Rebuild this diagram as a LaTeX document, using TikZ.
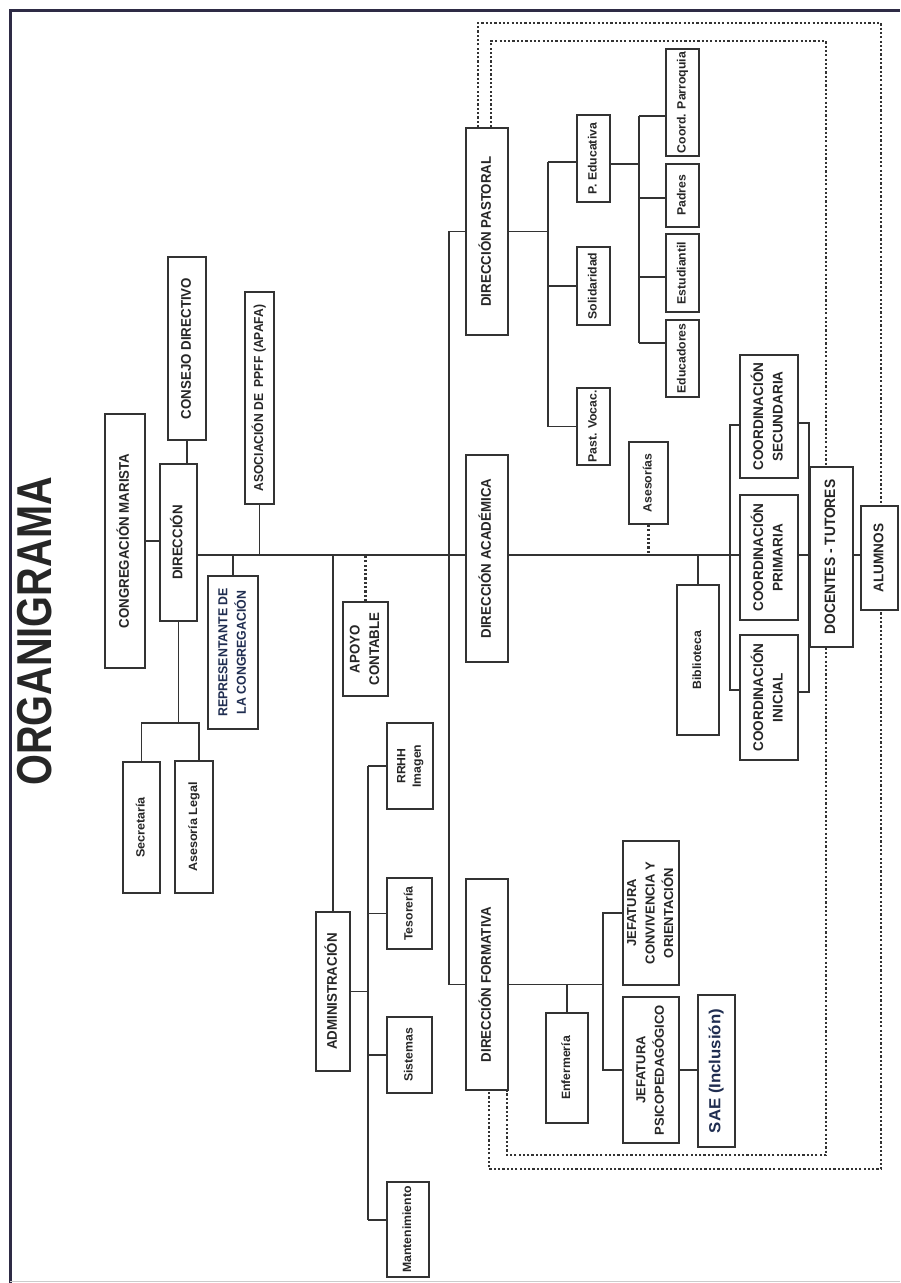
\documentclass[tikz,border=0pt]{standalone}
\usepackage{fontspec}
\setmainfont{Liberation Sans}
\usepackage{graphicx}
\pgfdeclarelayer{bg}
\pgfsetlayers{bg,main}
\definecolor{ln}{HTML}{333333}
\definecolor{navy}{HTML}{1F2D50}
\definecolor{frm}{HTML}{2E2B45}
\newcommand\rot[2]{\rotatebox{90}{\makebox[0pt]{\scalebox{#1}[1]{\begin{tabular}{@{}c@{}}#2\end{tabular}}}}}
\newcommand\bx[7][]{\node[box,#1,minimum width={(#5-#3)*1pt},minimum height={(#6-#4)*1pt}] (#2) at ({(#3+#5)/2},{(#4+#6)/2}) {#7};}
\tikzset{
  box/.style={draw=ln, line width=1.8pt, fill=white, inner sep=0pt, text=black!85},
  big/.style={font=\bfseries\fontsize{14}{19.5}\selectfont},
  med/.style={font=\bfseries\fontsize{13}{18.5}\selectfont},
  sml/.style={font=\bfseries\fontsize{12}{15.5}\selectfont},
  conn/.style={draw=ln, line width=1.6pt},
  dotl/.style={draw=black!80, line width=2.6pt, dash pattern=on 2.2pt off 2.1pt},
}
\begin{document}
\begin{tikzpicture}[x=1pt,y=-1pt]
\useasboundingbox (0,0) rectangle (900,1283);
\begin{pgfonlayer}{bg}
\fill[white] (0,0) rectangle (900,1283);
\end{pgfonlayer}
\draw[frm, line width=3pt] (10,1283) -- (10,10) -- (900,10);
\draw[black!20, line width=1pt] (10,1281.5) -- (900,1281.5);

\node[font=\bfseries\fontsize{49}{49}\selectfont, text=black!85, inner sep=0pt] (title) at (41.5,631.5) {\rot{0.81}{ORGANIGRAMA}};

% left part
\bx[big]{cong}{105}{414}{145}{668}{\rot{0.95}{CONGREGACIÓN MARISTA}}
\bx[big]{cons}{168}{257}{206}{440}{\rot{0.95}{CONSEJO DIRECTIVO}}
\bx[big]{dir}{160}{464}{197}{621}{\rot{0.95}{DIRECCIÓN}}
\bx[med]{apafa}{245}{292}{274}{504}{\rot{0.93}{ASOCIACIÓN DE\ \ PPFF (APAFA)}}
\bx[med,text=navy]{rep}{208}{576}{258}{729}{\rot{0.95}{REPRESENTANTE DE\\LA CONGREGACIÓN}}
\bx[sml]{sec}{123}{762}{160}{893}{\rot{1.05}{Secretaría}}
\bx[sml]{ase}{175}{761}{213}{893}{\rot{1.05}{Asesoría Legal}}

% administration
\bx[big]{apoyo}{343}{602}{388}{696}{\rot{0.95}{APOYO\\CONTABLE}}
\bx[big]{admin}{316}{912}{350}{1071}{\rot{0.95}{ADMINISTRACIÓN}}
\bx[sml]{rrhh}{387}{723}{433}{809}{\rot{1.02}{RRHH\\Imagen}}
\bx[sml]{teso}{387}{878}{432}{949}{\rot{1.02}{Tesorería}}
\bx[sml]{sis}{387}{1017}{432}{1093}{\rot{1.02}{Sistemas}}
\bx[sml]{mant}{387}{1182}{429}{1277}{\rot{1.02}{Mantenimiento}}

% pastoral
\bx[big]{past}{466}{128}{508}{335}{\rot{0.95}{DIRECCIÓN PASTORAL}}
\bx[sml]{peduc}{577}{115}{610}{202}{\rot{1.02}{P. Educativa}}
\bx[sml]{soli}{577}{247}{610}{325}{\rot{1.02}{Solidaridad}}
\bx[sml]{voc}{577}{388}{610}{465}{\rot{1.02}{Past. Vocac.}}
\bx[sml]{cpar}{666}{49}{699}{156}{\rot{1.02}{Coord. Parroquia}}
\bx[sml]{padres}{666}{164}{699}{227}{\rot{1.02}{Padres}}
\bx[sml]{estud}{666}{234}{699}{312}{\rot{1.02}{Estudiantil}}
\bx[sml]{educ}{666}{320}{699}{397}{\rot{1.02}{Educadores}}

% academic
\bx[big]{acad}{466}{455}{508}{662}{\rot{0.95}{DIRECCIÓN ACADÉMICA}}
\bx[sml]{ases}{629}{442}{668}{524}{\rot{1.02}{Asesorías}}
\bx[sml]{bib}{677}{585}{719}{735}{\rot{1.02}{Biblioteca}}
\bx[big]{csec}{740}{355}{798}{478}{\rot{0.97}{COORDINACIÓN\\SECUNDARIA}}
\bx[big]{cprim}{740}{495}{798}{620}{\rot{0.97}{COORDINACIÓN\\PRIMARIA}}
\bx[big]{cini}{740}{635}{798}{760}{\rot{0.97}{COORDINACIÓN\\INICIAL}}
\bx[font=\bfseries\fontsize{15}{18}\selectfont]{doc}{810}{467}{853}{647}{\rot{0.92}{DOCENTES - TUTORES}}
\bx[big]{alum}{861}{506}{898}{610}{\rot{0.97}{ALUMNOS}}

% formative
\bx[big]{form}{466}{879}{508}{1090}{\rot{0.95}{DIRECCIÓN FORMATIVA}}
\bx[sml]{enf}{546}{1013}{588}{1123}{\rot{1.02}{Enfermería}}
\bx[med]{jconv}{623}{841}{679}{985}{\rot{1.0}{JEFATURA\\CONVIVENCIA Y\\ORIENTACIÓN}}
\bx[med]{jpsi}{623}{997}{679}{1143}{\rot{1.0}{JEFATURA\\PSICOPEDAGÓGICO}}
\bx[font=\bfseries\fontsize{16}{19}\selectfont,text=navy]{sae}{698}{995}{735}{1147}{\rot{1.05}{SAE (Inclusión)}}

\begin{pgfonlayer}{bg}
\coordinate (tr) at (449,555);
% top part
\draw[conn] (cons.south) -- (cons.south |- dir.north);
\draw[conn] (cong.east) -- (cong.east -| dir.west);
\draw[conn] (dir.east |- tr) -- (acad.west |- tr);
\draw[conn] (acad.east |- tr) -- (cprim.west |- tr);
\draw[conn] (rep.north) -- (rep.north |- tr);
\draw[conn] (apafa.south) -- (apafa.south |- tr);
\coordinate (b1) at (180,723);
\draw[conn] (dir.south) -- (dir.south |- b1);
\draw[conn] (sec.north) |- (b1) -| ([xshift=5pt]ase.north);
% administration
\draw[conn] (admin.north) -- (admin.north |- tr);
\draw[dotl] (apoyo.north) -- (apoyo.north |- tr);
\coordinate (as) at (368,990);
\draw[conn] (admin.east) -- (admin.east -| as);
\draw[conn] (rrhh.west -| as) -- ([yshift=9.5pt]mant.west -| as);
\foreach \n in {rrhh,teso,sis} \draw[conn] (\n.west) -- (\n.west -| as);
\draw[conn] ([yshift=9.5pt]mant.west) -- ([yshift=9.5pt]mant.west -| as);
% trunk
\draw[conn] (past.west) -- (past.west -| tr) -- (form.west -| tr) -- (form.west);
% pastoral
\coordinate (ps) at (548,230);
\draw[conn] (past.east) -- (past.east -| ps);
\draw[conn] ([yshift=-3.5pt]peduc.west -| ps) -- (voc.west -| ps);
\draw[conn] ([yshift=-3.5pt]peduc.west) -- ([yshift=-3.5pt]peduc.west -| ps);
\draw[conn] (soli.west) -- (soli.west -| ps);
\draw[conn] (voc.west) -- (voc.west -| ps);
\coordinate (es) at (639,164);
\draw[conn] ([yshift=-5.5pt]peduc.east) -- ([yshift=-5.5pt]peduc.east -| es);
\draw[conn] ([yshift=-13.5pt]cpar.west -| es) -- ([yshift=15.5pt]educ.west -| es);
\draw[conn] ([yshift=-13.5pt]cpar.west) -- ([yshift=-13.5pt]cpar.west -| es);
\draw[conn] ([yshift=-2.5pt]padres.west) -- ([yshift=-2.5pt]padres.west -| es);
\draw[conn] ([yshift=-4pt]estud.west) -- ([yshift=-4pt]estud.west -| es);
\draw[conn] ([yshift=15.5pt]educ.west) -- ([yshift=15.5pt]educ.west -| es);
% academic
\draw[dotl] (ases.south) -- (ases.south |- tr);
\draw[conn] (bib.north) -- (bib.north |- tr);
\coordinate (cl) at (730,555);
\draw[conn] ([yshift=-8.5pt]csec.west) -- ([yshift=-8.5pt]csec.west -| cl) -- ([yshift=7.5pt]cini.west -| cl) -- ([yshift=7.5pt]cini.west);
\draw[conn] ([yshift=-6.5pt]csec.east) -- ([yshift=-6.5pt]csec.east -| doc.west) -- ([yshift=5.5pt]cini.east -| doc.west) -- ([yshift=5.5pt]cini.east);
\draw[conn] (cprim.east |- tr) -- (doc.west |- tr);
\draw[conn] (doc.east |- tr) -- (alum.west |- tr);
% formative
\coordinate (fs) at (603,986);
\draw[conn] (form.east) -- (form.east -| fs);
\draw[conn] (enf.north) -- (enf.north |- form.east);
\draw[conn] (jconv.west) -- (jconv.west -| fs) -- (jpsi.west -| fs) -- (jpsi.west);
\draw[conn] (jpsi.east) -- (jpsi.east -| sae.west);
% dotted frames
\coordinate (oL) at (478,23);
\coordinate (oR) at (881,1169);
\coordinate (oB) at (489,1169);
\coordinate (iL) at (491,41);
\coordinate (iR) at (826,1155);
\coordinate (iB) at (507,1155);
\draw[dotl] (past.north -| oL) -- (oL) -- (oL -| oR) -- (oR) -- (oB) -- (oB |- form.south);
\draw[dotl] (past.north -| iL) -- (iL) -- (iL -| iR) -- (iR) -- (iB) -- (iB |- form.south);
\end{pgfonlayer}
\end{tikzpicture}
\end{document}
